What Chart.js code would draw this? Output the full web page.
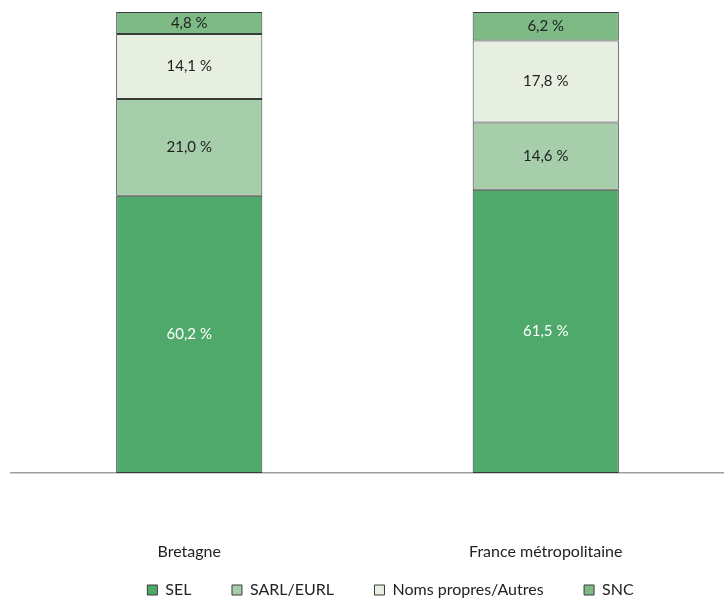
<!DOCTYPE html>
<html>
<head>
<meta charset="utf-8">
<script src="https://cdn.jsdelivr.net/npm/chart.js@4"></script>
<style>
  html, body { margin: 0; padding: 0; background: #fff; }
  #wrap { width: 724px; height: 598px; }
</style>
</head>
<body>
<div id="wrap"><canvas id="chart1"></canvas></div>
<script>
"use strict";

const categories = ['Bretagne', 'France métropolitaine'];
const sel = [60.2, 61.5];
const sarl = [21.0, 14.6];
const noms = [14.1, 17.8];
const snc = [4.8, 6.2];

const fmt = v => v.toFixed(1).replace('.', ',') + ' %';

// draws the value in the middle of each segment
const segmentLabels = {
    id: 'segmentLabels',
    afterDatasetsDraw(chart) {
        const ctx = chart.ctx;
        ctx.save();
        ctx.font = '15px Lato';
        ctx.textAlign = 'center';
        ctx.textBaseline = 'middle';
        chart.data.datasets.forEach((ds, i) => {
            chart.getDatasetMeta(i).data.forEach((bar, j) => {
                const p = bar.getProps(['x', 'y', 'base'], true);
                ctx.fillStyle = ds.labelColor;
                ctx.fillText(fmt(ds.data[j]), p.x, (p.y + p.base) / 2);
            });
        });
        ctx.restore();
    }
};

// legend sits low and a bit right of centre
const legendPlace = {
    id: 'legendPlace',
    beforeInit(chart) {
        const fit = chart.legend.fit;
        chart.legend.fit = function () {
            fit.call(this);
            this.height = 36;
        };
    },
    afterLayout(chart) {
        chart.legend.left += 23;
        chart.legend.right += 23;
    }
};

const common = { borderColor: '#3a3a3a', borderWidth: 1, borderSkipped: false };

const data = {
    labels: categories,
    datasets: [
        { label: 'SEL', data: sel, backgroundColor: '#4fa96a', labelColor: '#ffffff', ...common },
        { label: 'SARL/EURL', data: sarl, backgroundColor: '#a6ceaa', labelColor: '#222222', ...common },
        { label: 'Noms propres/Autres', data: noms, backgroundColor: '#e7efe1', labelColor: '#222222', ...common },
        { label: 'SNC', data: snc, backgroundColor: '#7dba85', labelColor: '#222222', ...common }
    ]
};

const config = {
    type: 'bar',
    data: data,
    options: {
        responsive: true,
        maintainAspectRatio: false,
        animation: false,
        layout: { padding: { top: 12, left: 11, right: 0, bottom: 0 } },
        datasets: { bar: { barPercentage: 0.41, categoryPercentage: 1 } },
        scales: {
            x: {
                stacked: true,
                grid: { display: false, drawTicks: false },
                border: { color: '#a0a0a0', width: 1.5 },
                ticks: { color: '#222', font: { family: 'Lato', size: 16 }, padding: 69, maxRotation: 0 },
                afterFit(scale) { scale.height = 89; }
            },
            y: { stacked: true, display: false, min: 0, max: 100.1 }
        },
        plugins: {
            legend: {
                position: 'bottom',
                labels: {
                    color: '#222',
                    font: { family: 'Lato', size: 16 },
                    boxWidth: 10, boxHeight: 10, padding: 20,
                    generateLabels(chart) {
                        const items = Chart.defaults.plugins.legend.labels.generateLabels(chart);
                        items.forEach((it, i) => {
                            if (i < items.length - 1) it.text += '     ';
                        });
                        return items;
                    }
                }
            },
            tooltip: { enabled: false }
        }
    },
    plugins: [segmentLabels, legendPlace]
};

new Chart(document.getElementById('chart1'), config);
</script>
</body>
</html>
